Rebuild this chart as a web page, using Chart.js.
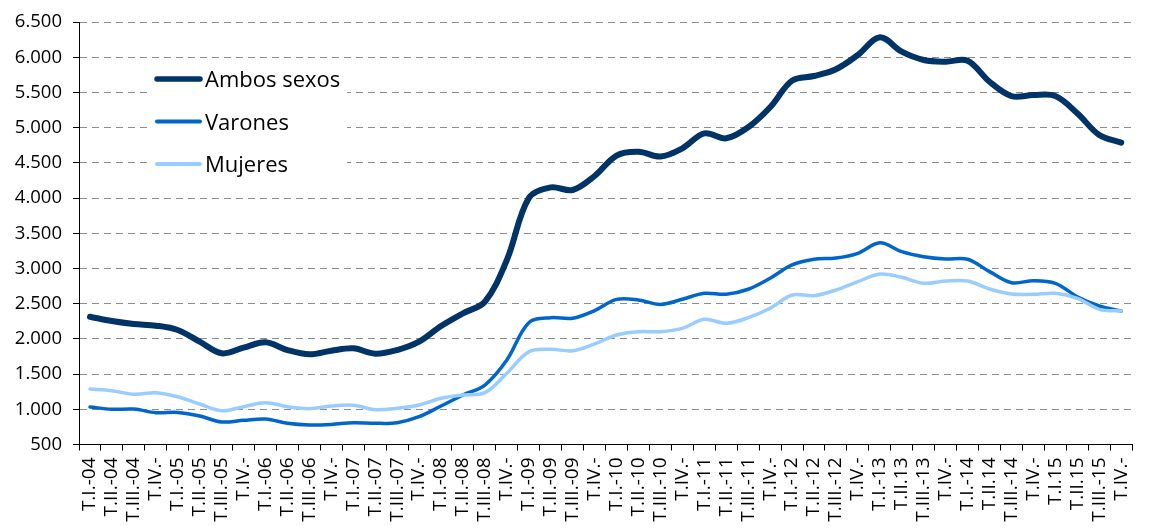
<!DOCTYPE html>
<html>
<head>
<meta charset="utf-8">
<script src="https://cdn.jsdelivr.net/npm/chart.js@4.4.1/dist/chart.umd.min.js"></script>
<style>
html,body{margin:0;padding:0;background:#fff;}
#wrap{width:1151px;height:529px;position:relative;}
</style>
</head>
<body>
<div id="wrap"><canvas id="c" width="1151" height="529"></canvas></div>
<script>
const categories = [
 "T.I.-04","T.II.-04","T.III.-04","T.IV.-",
 "T.I.-05","T.II.-05","T.III.-05","T.IV.-",
 "T.I.-06","T.II.-06","T.III.-06","T.IV.-",
 "T.I.-07","T.II.-07","T.III.-07","T.IV.-",
 "T.I.-08","T.II.-08","T.III.-08","T.IV.-",
 "T.I.-09","T.II.-09","T.III.-09","T.IV.-",
 "T.I.-10","T.II.-10","T.III.-10","T.IV.-",
 "T.I.-11","T.II.-11","T.III.-11","T.IV.-",
 "T.I.-12","T.II.-12","T.III.-12","T.IV.-",
 "T.I.-13","T.II.13","T.III.-13","T.IV.-",
 "T.I.-14","T.II.14","T.III.-14","T.IV.-",
 "T.I.15","T.II.15","T.III.-15","T.IV.-"
];
const ambosSexos = [
 2315,2254,2212,2188, 2126,1960,1795,1875, 1952,1842,1781,1832,
 1866,1790,1842,1960, 2183,2364,2528,3121, 4000,4153,4115,4314,
 4605,4659,4590,4707, 4920,4849,5006,5290, 5668,5734,5830,6033,
 6284,6080,5962,5938, 5952,5653,5450,5464, 5450,5205,4896,4787
];
const varones = [
 1033,1000,1003,952, 955,905,820,843, 862,801,777,785,
 810,801,810,895, 1047,1203,1345,1700, 2230,2301,2293,2401,
 2562,2553,2490,2563, 2648,2634,2705,2861, 3050,3131,3149,3216,
 3366,3239,3168,3135, 3131,2955,2798,2827, 2790,2599,2467,2396
];
const mujeres = [
 1288,1264,1213,1236, 1179,1075,980,1037, 1094,1037,1009,1047,
 1057,995,1014,1061, 1156,1203,1236,1511, 1818,1852,1832,1928,
 2055,2102,2102,2150, 2278,2222,2301,2435, 2624,2614,2695,2813,
 2922,2875,2790,2822, 2822,2709,2638,2634, 2648,2577,2420,2396
];
const seriesNames = ["Ambos sexos","Varones","Mujeres"];
const seriesColors = ["#003366","#0066CC","#99CCFF"];
const yMin = 500, yMax = 6500, yStep = 500;

const FONT = "'Open Sans', 'Liberation Sans', sans-serif";

const legendPlugin = {
  id: 'boxLegend',
  beforeDatasetsDraw(chart) {
    const ctx = chart.ctx;
    ctx.save();
    ctx.fillStyle = '#ffffff';
    ctx.fillRect(147, 63, 200, 120);
    const ys = [79, 121.5, 164];
    chart.data.datasets.forEach((ds, i) => {
      ctx.strokeStyle = ds.borderColor;
      ctx.lineWidth = i === 0 ? 5.5 : 4;
      ctx.lineCap = 'round';
      ctx.beginPath();
      ctx.moveTo(157, ys[i]);
      ctx.lineTo(200, ys[i]);
      ctx.stroke();
      ctx.fillStyle = '#000';
      ctx.font = "22px " + FONT;
      ctx.textBaseline = 'middle';
      ctx.textAlign = 'left';
      ctx.fillText(ds.label, 205, ys[i] + 2);
    });
    ctx.restore();
  }
};

new Chart(document.getElementById('c'), {
  type: 'line',
  data: {
    labels: categories,
    datasets: [
      {label: seriesNames[0], data: ambosSexos, borderColor: seriesColors[0], borderWidth: 6, order: 3},
      {label: seriesNames[1], data: varones, borderColor: seriesColors[1], borderWidth: 3.5, order: 2},
      {label: seriesNames[2], data: mujeres, borderColor: seriesColors[2], borderWidth: 3.5, order: 1}
    ].map(d => Object.assign(d, {
      pointRadius: 0, pointHoverRadius: 0, tension: 0.35, fill: false,
      borderCapStyle: 'round', borderJoinStyle: 'round', backgroundColor: d.borderColor
    }))
  },
  options: {
    responsive: false,
    animation: false,
    events: [],
    layout: {padding: {top: 22, right: 1, left: 0, bottom: 0}},
    plugins: {legend: {display: false}, tooltip: {enabled: false}},
    scales: {
      x: {
        type: 'category',
        offset: true,
        grid: {display: true, offset: true, drawOnChartArea: false, drawTicks: true, tickLength: 6, tickColor: '#000', tickWidth: 1},
        border: {display: true, color: '#000', width: 1},
        ticks: {autoSkip: false, minRotation: 90, maxRotation: 90, padding: 7, color: '#000', font: {family: FONT, size: 19}},
        afterFit(scale) { scale.height = 84.5; }
      },
      y: {
        min: yMin, max: yMax,
        grid: {
          color: c => (c.tick && c.tick.value === yMin) ? 'rgba(0,0,0,0)' : '#8c8c8c',
          lineWidth: 1, drawTicks: true, tickLength: 6, tickColor: '#000'
        },
        border: {display: true, color: '#000', width: 1, dash: [7, 5]},
        ticks: {
          stepSize: yStep, padding: 11, color: '#000', font: {family: FONT, size: 18.5},
          callback: v => v.toLocaleString('de-DE')
        },
        afterFit(scale) { scale.width = 79; }
      }
    }
  },
  plugins: [legendPlugin]
});
</script>
</body>
</html>
